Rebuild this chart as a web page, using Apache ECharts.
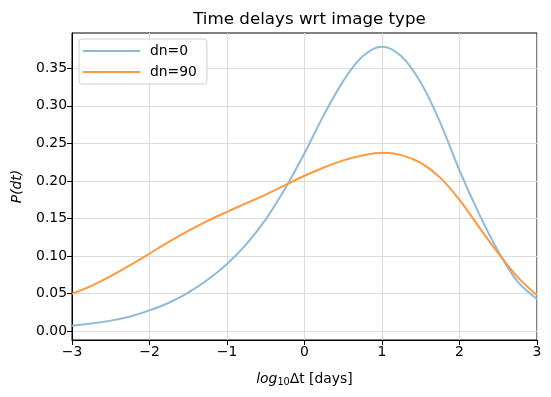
<!DOCTYPE html>
<html>
<head>
<meta charset="utf-8">
<script src="https://cdn.jsdelivr.net/npm/echarts@6/dist/echarts.min.js"></script>
<style>
html,body{margin:0;padding:0;background:#fff;}
#chart{width:551px;height:397px;}
</style>
</head>
<body>
<div id="chart"></div>
<script>
var xValues = [-3, -2.75, -2.5, -2.25, -2, -1.75, -1.5, -1.25, -1, -0.75, -0.5, -0.25, 0, 0.25, 0.5, 0.75, 1, 1.25, 1.5, 1.75, 2, 2.25, 2.5, 2.75, 3];
var dn0 = [0.0075, 0.0103, 0.0142, 0.0197, 0.0278, 0.038, 0.0515, 0.0685, 0.0895, 0.116, 0.149, 0.190, 0.237, 0.288, 0.333, 0.366, 0.3788, 0.366, 0.331, 0.278, 0.214, 0.157, 0.1065, 0.066, 0.043];
var dn90 = [0.050, 0.0605, 0.0735, 0.088, 0.1035, 0.119, 0.1335, 0.147, 0.159, 0.1705, 0.182, 0.1945, 0.207, 0.218, 0.2275, 0.234, 0.2375, 0.2345, 0.224, 0.2045, 0.175, 0.139, 0.104, 0.072, 0.048];
var yTicks = [0, 0.05, 0.10, 0.15, 0.20, 0.25, 0.30, 0.35];
var seriesNames = ['dn=0', 'dn=90'];
var seriesColors = ['#8fbbd9', '#ff993e'];

function pairs(ys) { return xValues.map(function (x, i) { return [x, ys[i]]; }); }

var font = 'DejaVu Sans';
var chart = echarts.init(document.getElementById('chart'));
chart.setOption({
  animation: false,
  backgroundColor: '#fff',
  title: {
    text: 'Time delays wrt image type',
    left: 304.5, top: 6, textAlign: 'center',
    textStyle: { fontFamily: font, fontSize: 16.7, fontWeight: 'normal', color: '#000' }
  },
  legend: {
    left: 79, top: 39, orient: 'vertical',
    itemWidth: 57, itemHeight: 14, itemGap: 7,
    padding: [5, 10, 5, 4],
    backgroundColor: 'rgba(255,255,255,0.8)',
    borderColor: '#d0d0d0', borderWidth: 1, borderRadius: 3,
    textStyle: { fontFamily: font, fontSize: 13.9, color: '#000', padding: [0, 0, 0, 5] },
    data: seriesNames.map(function (n) { return { name: n, icon: 'path://M0,0 L57,0 L57,2 L0,2 Z' }; })
  },
  grid: {
    left: 72, right: 14, top: 33, bottom: 57,
    show: true, borderColor: '#000', borderWidth: 1, backgroundColor: 'transparent'
  },
  xAxis: {
    type: 'value', min: -3, max: 3, interval: 1,
    name: '{i|log}{s|10}Δt [days]',
    nameLocation: 'middle', nameGap: 31,
    nameTextStyle: {
      fontFamily: font, fontSize: 13.9, color: '#000',
      rich: {
        i: { fontFamily: font, fontSize: 13.9, fontStyle: 'italic', color: '#000' },
        s: { fontFamily: font, fontSize: 9.7, color: '#000', verticalAlign: 'bottom', padding: [6, 0, 0, 0] }
      }
    },
    axisLine: { show: true, onZero: false, lineStyle: { color: '#000', width: 1 } },
    axisTick: { show: true, length: 5, lineStyle: { color: '#000' } },
    axisLabel: {
      fontFamily: font, fontSize: 13.9, color: '#000', margin: 5,
      formatter: function (v) { return v < 0 ? '\u2212' + Math.abs(v) : String(v); }
    },
    splitLine: { show: true, lineStyle: { color: '#dcdcdc', width: 1 } }
  },
  yAxis: {
    type: 'value', min: -0.0116, max: 0.397,
    name: 'P(dt)',
    nameLocation: 'middle', nameGap: 48, nameRotate: 90,
    nameTextStyle: { fontFamily: font, fontSize: 13.9, fontStyle: 'italic', color: '#000' },
    axisLine: { show: true, onZero: false, lineStyle: { color: '#000', width: 1 } },
    axisTick: { show: true, length: 5, lineStyle: { color: '#000' }, customValues: yTicks },
    axisLabel: {
      fontFamily: font, fontSize: 13.9, color: '#000', margin: 5,
      customValues: yTicks,
      formatter: function (v) { return v.toFixed(2); }
    },
    splitLine: { show: true, lineStyle: { color: '#dcdcdc', width: 1 } }
  },
  series: [
    {
      name: seriesNames[0], type: 'line', data: pairs(dn0), smooth: 0.35, showSymbol: false,
      color: seriesColors[0], lineStyle: { width: 2, color: seriesColors[0] }
    },
    {
      name: seriesNames[1], type: 'line', data: pairs(dn90), smooth: 0.35, showSymbol: false,
      color: seriesColors[1], lineStyle: { width: 2, color: seriesColors[1] }
    }
  ]
});
</script>
</body>
</html>
